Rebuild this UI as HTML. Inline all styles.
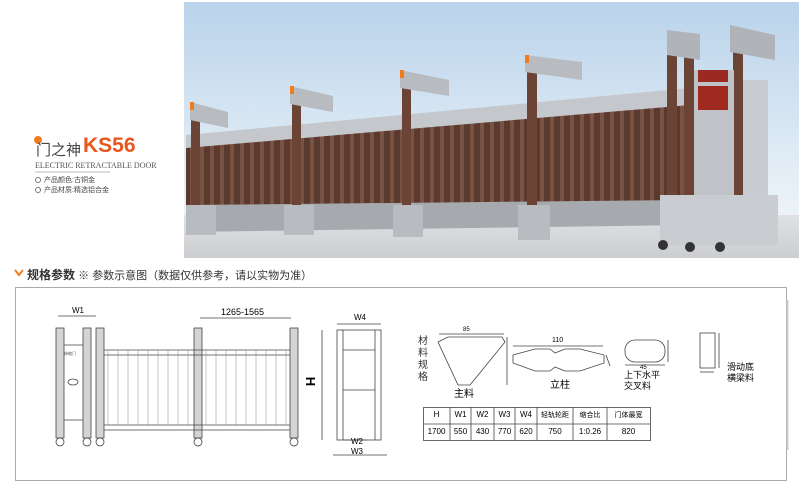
<!DOCTYPE html>
<html><head><meta charset="utf-8"><style>
body{margin:0;width:799px;height:489px;background:#fff;overflow:hidden;position:relative;font-family:"Liberation Sans","Noto Sans CJK SC",sans-serif}
.a{position:absolute;white-space:nowrap}
</style></head><body>
<svg class="a" style="left:0;top:0" width="799" height="489" viewBox="0 0 799 489">
<defs>
<linearGradient id="sky" x1="0" y1="0" x2="0" y2="1"><stop offset="0" stop-color="#b9d3ea"/><stop offset="0.7" stop-color="#e6eff7"/><stop offset="1" stop-color="#f3f6f8"/></linearGradient>
<linearGradient id="gr" x1="0" y1="0" x2="0" y2="1"><stop offset="0" stop-color="#e0e1e3"/><stop offset="1" stop-color="#cbcdd0"/></linearGradient>
<pattern id="sl" width="10" height="10" patternUnits="userSpaceOnUse"><rect width="10" height="10" fill="#5a3a2e"/><rect x="0" width="4" height="10" fill="#7a5242"/></pattern>
</defs>
<rect x="184" y="2" width="615" height="256" fill="url(#sky)"/>
<rect x="184" y="215" width="615" height="43" fill="url(#gr)"/>
<polygon points="186,135 690,88 690,110 186,152" fill="#c4c7cb"/>
<polygon points="186,148 690,105 690,215 186,228" fill="url(#sl)"/>
<polygon points="186,205 690,200 690,225 186,232" fill="#a6aaae"/>
<g fill="#6b4436">
<rect x="191" y="115" width="9" height="100"/><rect x="292" y="100" width="9" height="115"/><rect x="402" y="80" width="9" height="135"/><rect x="527" y="60" width="10" height="155"/>
</g>
<g fill="#b8bcc0">
<polygon points="190,102 228,112 228,128 190,120"/><polygon points="290,86 333,96 333,112 290,104"/><polygon points="400,70 449,80 449,96 400,88"/><polygon points="525,55 582,62 582,80 525,72"/>
<rect x="186" y="205" width="30" height="30"/><rect x="284" y="205" width="30" height="30"/><rect x="393" y="205" width="30" height="32"/><rect x="518" y="205" width="32" height="35"/>
</g>
<g fill="#f07c1e"><rect x="190" y="102" width="4" height="8"/><rect x="290" y="86" width="4" height="8"/><rect x="400" y="70" width="4" height="8"/><rect x="525" y="55" width="4" height="8"/></g>
<rect x="667" y="35" width="10" height="190" fill="#6b4436"/>
<rect x="684" y="40" width="10" height="185" fill="#6b4436"/>
<rect x="733" y="30" width="10" height="195" fill="#6b4436"/>
<rect x="694" y="70" width="40" height="150" fill="#bfc3c8"/>
<rect x="743" y="80" width="25" height="145" fill="#c8ccd0"/>
<rect x="698" y="70" width="30" height="12" fill="#9b2a22"/>
<rect x="698" y="86" width="30" height="24" fill="#a12a20"/>
<polygon points="667,30 700,34 700,60 667,55" fill="#b0b4b8"/>
<polygon points="730,25 775,35 775,60 730,52" fill="#b0b4b8"/>
<rect x="660" y="195" width="118" height="50" fill="#c9ccd0"/>
<circle cx="663" cy="245" r="5" fill="#333"/><circle cx="690" cy="247" r="5" fill="#333"/><circle cx="720" cy="247" r="5" fill="#333"/>
<rect x="15.5" y="287.5" width="771" height="193" fill="none" stroke="#aaa"/>
<line x1="787.5" y1="300" x2="787.5" y2="450" stroke="#ccc" stroke-width="2"/>
<polyline points="15,270 19,275 23,270" fill="none" stroke="#f07c1e" stroke-width="2"/>
<g stroke="#444" fill="none" stroke-width="0.8">
<line x1="58" y1="316" x2="96" y2="316"/><line x1="200" y1="318" x2="291" y2="318"/>
<line x1="337" y1="324" x2="381" y2="324"/>
<line x1="322" y1="330" x2="322" y2="440"/>
<line x1="343" y1="440" x2="367" y2="440"/><line x1="333" y1="455" x2="387" y2="455"/>
<g fill="#d4d4d4"><rect x="56" y="328" width="8" height="110"/><rect x="83" y="328" width="8" height="110"/><rect x="96" y="328" width="8" height="110"/><rect x="194" y="328" width="8" height="110"/><rect x="290" y="328" width="8" height="110"/></g>
<line x1="64" y1="345" x2="83" y2="345"/><line x1="64" y1="420" x2="83" y2="420"/>
<ellipse cx="73" cy="382" rx="5" ry="3"/>
<line x1="104" y1="350" x2="290" y2="350"/><line x1="104" y1="355" x2="290" y2="355"/>
<line x1="104" y1="425" x2="290" y2="425"/><line x1="104" y1="430" x2="290" y2="430"/>
<circle cx="60" cy="442" r="4"/><circle cx="87" cy="442" r="4"/><circle cx="100" cy="442" r="4"/><circle cx="198" cy="442" r="4"/><circle cx="294" cy="442" r="4"/>
<rect x="337" y="330" width="44" height="110"/>
<line x1="343" y1="350" x2="375" y2="350"/><line x1="343" y1="390" x2="375" y2="390"/>
<line x1="343" y1="330" x2="343" y2="440"/><line x1="375" y1="330" x2="375" y2="440"/>
<polygon points="438,342 448,337 502,337 505,342 470,385 458,385"/>
<line x1="439" y1="334" x2="504" y2="334"/><line x1="507" y1="337" x2="507" y2="385"/>
<polygon points="513,355 535,349 550,349 555,353 565,349 580,349 604,355 604,363 580,371 565,371 555,367 550,371 535,371 513,363"/>
<line x1="513" y1="346" x2="603" y2="346"/><line x1="606" y1="355" x2="610" y2="366"/>
<rect x="625" y="340" width="40" height="22" rx="10"/>
<line x1="668" y1="340" x2="668" y2="362"/><line x1="625" y1="365" x2="665" y2="365"/>
<rect x="700" y="333" width="15" height="35"/><line x1="719" y1="333" x2="719" y2="368"/><line x1="700" y1="372" x2="714" y2="372"/>
<rect x="423.5" y="407.5" width="227" height="33"/><line x1="423" y1="424" x2="650" y2="424"/>
<line x1="450" y1="407" x2="450" y2="440"/><line x1="471" y1="407" x2="471" y2="440"/><line x1="494" y1="407" x2="494" y2="440"/><line x1="515" y1="407" x2="515" y2="440"/><line x1="537" y1="407" x2="537" y2="440"/><line x1="573" y1="407" x2="573" y2="440"/><line x1="607" y1="407" x2="607" y2="440"/>
</g>
<g stroke="#888" stroke-width="0.5">
<line x1="108" y1="350" x2="108" y2="425"/><line x1="118" y1="350" x2="118" y2="425"/><line x1="128" y1="350" x2="128" y2="425"/><line x1="138" y1="350" x2="138" y2="425"/><line x1="148" y1="350" x2="148" y2="425"/><line x1="158" y1="350" x2="158" y2="425"/><line x1="168" y1="350" x2="168" y2="425"/><line x1="178" y1="350" x2="178" y2="425"/><line x1="188" y1="350" x2="188" y2="425"/>
<line x1="206" y1="350" x2="206" y2="425"/><line x1="216" y1="350" x2="216" y2="425"/><line x1="226" y1="350" x2="226" y2="425"/><line x1="236" y1="350" x2="236" y2="425"/><line x1="246" y1="350" x2="246" y2="425"/><line x1="256" y1="350" x2="256" y2="425"/><line x1="266" y1="350" x2="266" y2="425"/><line x1="276" y1="350" x2="276" y2="425"/><line x1="286" y1="350" x2="286" y2="425"/>
</g>
<circle cx="38" cy="140" r="4" fill="#f07c1e"/>
<line x1="35" y1="172" x2="110" y2="172" stroke="#bbb"/>
<circle cx="38" cy="180" r="2.5" fill="none" stroke="#777"/><circle cx="38" cy="190" r="2.5" fill="none" stroke="#777"/>
</svg>
<div class="a" style="left:36px;top:139px;font-size:15px;color:#444">门之神</div>
<div class="a" style="left:83px;top:134px;font-size:21px;font-weight:bold;color:#e8561e">KS56</div>
<div class="a" style="left:35px;top:161px;font-size:8px;color:#555;font-family:'Liberation Serif',serif">ELECTRIC RETRACTABLE DOOR</div>
<div class="a" style="left:44px;top:175px;font-size:7px;color:#444">产品颜色:古铜金</div>
<div class="a" style="left:44px;top:185px;font-size:7px;color:#444">产品材质:精选铝合金</div>
<div class="a" style="left:27px;top:266px;font-size:11px;color:#333"><b style="font-size:12px">规格参数</b> ※ 参数示意图（数据仅供参考，请以实物为准）</div>
<div class="a" style="left:72px;top:306px;font-size:8px">W1</div>
<div class="a" style="left:221px;top:307px;font-size:9px">1265-1565</div>
<div class="a" style="left:354px;top:313px;font-size:8px">W4</div>
<div class="a" style="left:306px;top:374px;font-size:13px;font-weight:bold;transform:rotate(90deg)">H</div>
<div class="a" style="left:351px;top:437px;font-size:8px">W2</div>
<div class="a" style="left:351px;top:447px;font-size:8px">W3</div>
<div class="a" style="left:64px;top:351px;font-size:4px;color:#555">伸缩门</div>
<div class="a" style="left:418px;top:336px;font-size:10px;line-height:12px;width:12px;white-space:normal;color:#333">材料规格</div>
<div class="a" style="left:454px;top:385px;font-size:10px">主料</div>
<div class="a" style="left:550px;top:376px;font-size:10px">立柱</div>
<div class="a" style="left:624px;top:370px;font-size:9px;line-height:11px">上下水平<br>交叉料</div>
<div class="a" style="left:727px;top:362px;font-size:9px;line-height:11px">滑动底<br>横梁料</div>
<div class="a" style="left:463px;top:327px;font-size:6px">85</div><div class="a" style="left:552px;top:337px;font-size:7px">110</div><div class="a" style="left:640px;top:365px;font-size:6px">45</div>
<div class="a" style="left:423px;top:410px;width:227px;font-size:8px;display:flex"><span style="width:27px;text-align:center">H</span><span style="width:21px;text-align:center">W1</span><span style="width:23px;text-align:center">W2</span><span style="width:21px;text-align:center">W3</span><span style="width:22px;text-align:center">W4</span><span style="width:36px;text-align:center;font-size:7px">轻轨轮距</span><span style="width:34px;text-align:center;font-size:7px">缩合比</span><span style="width:43px;text-align:center;font-size:7px">门体最宽</span></div>
<div class="a" style="left:423px;top:427px;width:227px;font-size:8px;display:flex"><span style="width:27px;text-align:center">1700</span><span style="width:21px;text-align:center">550</span><span style="width:23px;text-align:center">430</span><span style="width:21px;text-align:center">770</span><span style="width:22px;text-align:center">620</span><span style="width:36px;text-align:center">750</span><span style="width:34px;text-align:center">1:0.26</span><span style="width:43px;text-align:center">820</span></div>
</body></html>
